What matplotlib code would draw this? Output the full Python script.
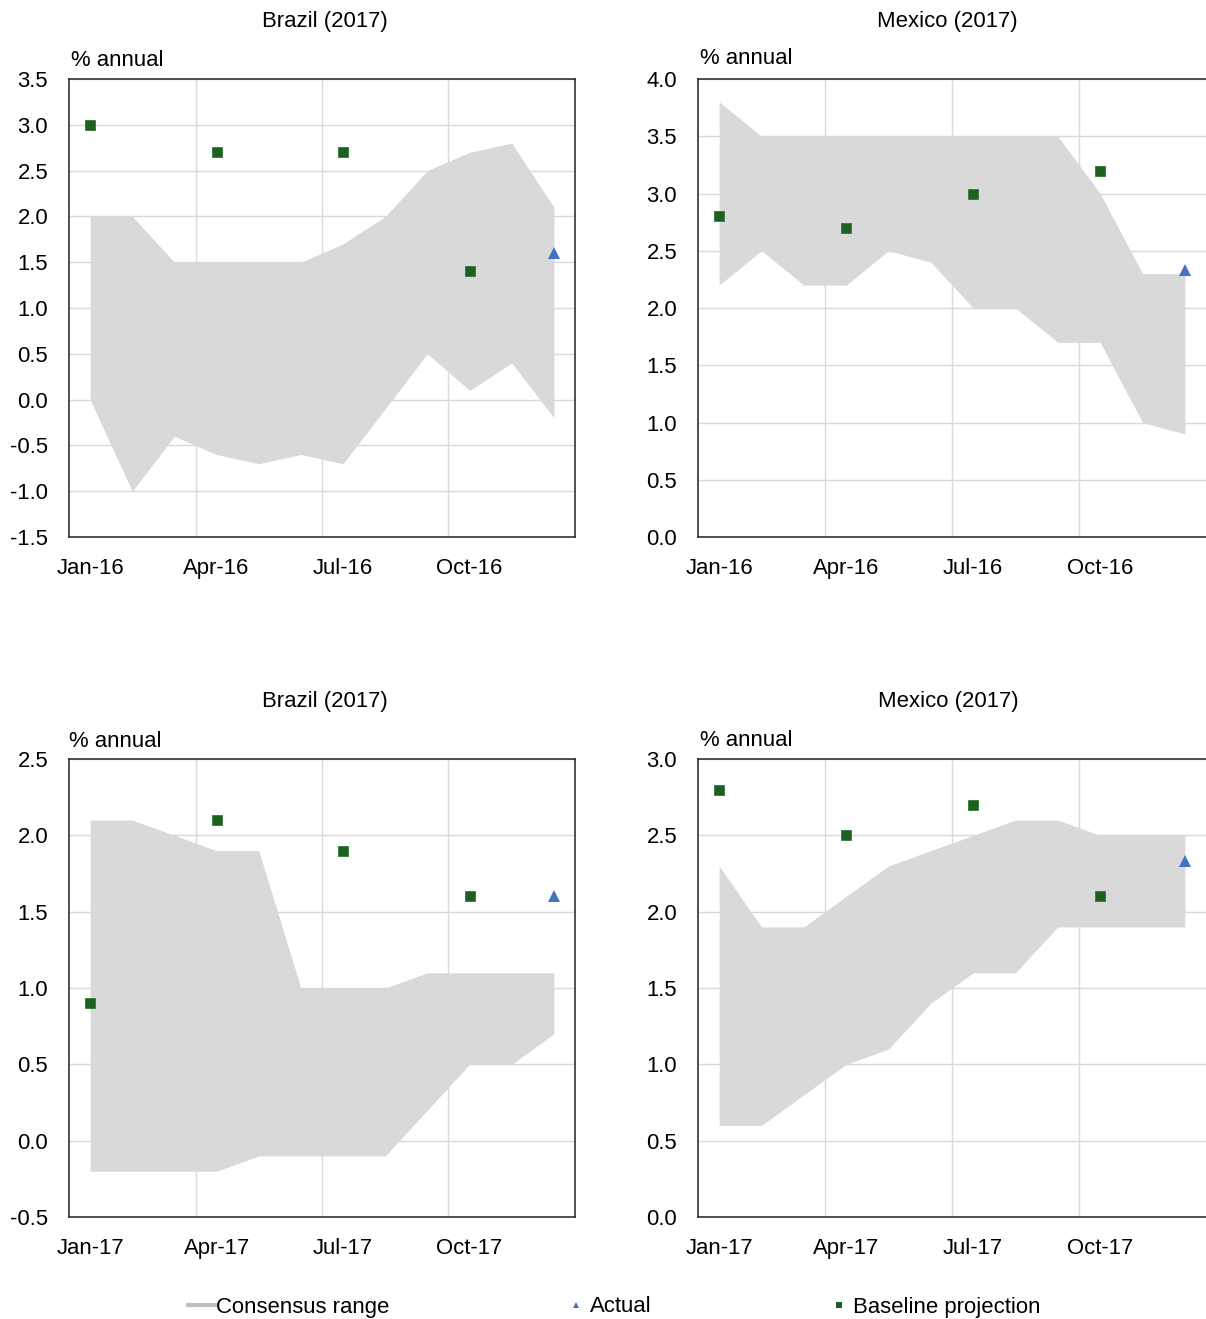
import matplotlib
matplotlib.use("Agg")
import matplotlib.pyplot as plt
from matplotlib.lines import Line2D
from matplotlib.ticker import FixedLocator, MultipleLocator

plt.rcParams['font.family'] = ['Liberation Sans', 'DejaVu Sans']

months = list(range(12))
tick_pos = [0, 3, 6, 9]
labels_2016 = ["Jan-16", "Apr-16", "Jul-16", "Oct-16"]
labels_2017 = ["Jan-17", "Apr-17", "Jul-17", "Oct-17"]

# Brazil, forecasts made during 2016
br16_high = [2.0, 2.0, 1.5, 1.5, 1.5, 1.5, 1.7, 2.0, 2.5, 2.7, 2.8, 2.1]
br16_low = [0.0, -1.0, -0.4, -0.6, -0.7, -0.6, -0.7, -0.1, 0.5, 0.1, 0.4, -0.2]
br16_base = [3.0, 2.7, 2.7, 1.4]
br16_actual = 1.6

# Mexico, forecasts made during 2016
mx16_high = [3.8, 3.5, 3.5, 3.5, 3.5, 3.5, 3.5, 3.5, 3.5, 3.0, 2.3, 2.3]
mx16_low = [2.2, 2.5, 2.2, 2.2, 2.5, 2.4, 2.0, 2.0, 1.7, 1.7, 1.0, 0.9]
mx16_base = [2.8, 2.7, 3.0, 3.2]
mx16_actual = 2.33

# Brazil, forecasts made during 2017
br17_high = [2.1, 2.1, 2.0, 1.9, 1.9, 1.0, 1.0, 1.0, 1.1, 1.1, 1.1, 1.1]
br17_low = [-0.2, -0.2, -0.2, -0.2, -0.1, -0.1, -0.1, -0.1, 0.2, 0.5, 0.5, 0.7]
br17_base = [0.9, 2.1, 1.9, 1.6]
br17_actual = 1.6

# Mexico, forecasts made during 2017
mx17_high = [2.3, 1.9, 1.9, 2.1, 2.3, 2.4, 2.5, 2.6, 2.6, 2.5, 2.5, 2.5]
mx17_low = [0.6, 0.6, 0.8, 1.0, 1.1, 1.4, 1.6, 1.6, 1.9, 1.9, 1.9, 1.9]
mx17_base = [2.8, 2.5, 2.7, 2.1]
mx17_actual = 2.33

FILL = "#d9d9d9"
GREEN = "#1f5f20"
BLUE = "#4472c4"
GRID = "#d9d9d9"
FS = 15.9

W, H = 1206, 1319
fig = plt.figure(figsize=(W / 100, H / 100), dpi=100)


def px_axes(left, right, top, bottom):
    return fig.add_axes([left / W, 1 - bottom / H, (right - left) / W, (bottom - top) / H])


def panel(ax, high, low, base, actual, xlabels, ylim, ystep, hide_right=False):
    ax.fill_between(months, low, high, color=FILL, linewidth=0, zorder=1)
    ax.plot(tick_pos, base, linestyle="none", marker="s", markersize=7.3,
            color=GREEN, markeredgecolor="#2f7a31", markeredgewidth=0.6, zorder=3)
    ax.plot([11], [actual], linestyle="none", marker="^", markersize=8.5,
            color=BLUE, markeredgewidth=0, zorder=3)
    ax.set_xlim(-0.5, 11.5)
    ax.set_ylim(*ylim)
    ax.xaxis.set_major_locator(FixedLocator(tick_pos))
    ax.set_xticklabels(xlabels)
    ax.xaxis.set_minor_locator(FixedLocator([2.5, 5.5, 8.5]))
    ax.yaxis.set_major_locator(MultipleLocator(ystep))
    ax.yaxis.set_major_formatter(plt.FuncFormatter(lambda v, p: f"{v:.1f}"))
    ax.grid(True, which="minor", axis="x", color=GRID, linewidth=1, zorder=0)
    ax.grid(True, which="major", axis="y", color=GRID, linewidth=1, zorder=0)
    ax.set_axisbelow(True)
    ax.tick_params(axis="both", which="both", length=0, labelsize=FS, colors="black")
    ax.tick_params(axis="y", pad=15)
    ax.tick_params(axis="x", pad=15)
    for s in ax.spines.values():
        s.set_color("#222222")
        s.set_linewidth(1.1)
    if hide_right:
        ax.spines["right"].set_visible(False)


ax1 = px_axes(69, 575, 79, 537)
panel(ax1, br16_high, br16_low, br16_base, br16_actual, labels_2016, (-1.5, 3.5), 0.5)
ax2 = px_axes(698, 1206, 79, 537)
panel(ax2, mx16_high, mx16_low, mx16_base, mx16_actual, labels_2016, (0.0, 4.0), 0.5, hide_right=True)
ax3 = px_axes(69, 575, 759, 1217)
panel(ax3, br17_high, br17_low, br17_base, br17_actual, labels_2017, (-0.5, 2.5), 0.5)
ax4 = px_axes(698, 1206, 759, 1217)
panel(ax4, mx17_high, mx17_low, mx17_base, mx17_actual, labels_2017, (0.0, 3.0), 0.5, hide_right=True)


def ftext(x, y, s, ha="left"):
    fig.text(x / W, 1 - y / H, s, ha=ha, va="center", fontsize=FS, color="black")


ftext(325, 21, "Brazil (2017)", ha="center")
ftext(947, 21, "Mexico (2017)", ha="center")
ftext(325, 701, "Brazil (2017)", ha="center")
ftext(948, 702, "Mexico (2017)", ha="center")
ftext(71, 60, "% annual")
ftext(700, 59, "% annual")
ftext(69, 742, "% annual")
ftext(700, 740, "% annual")

# Legend entries along the bottom
legend_items = [
    (Line2D([], [], color="#bfbfbf", linewidth=3), "Consensus range", 188, 1.2, 0.05),
    (Line2D([], [], linestyle="none", marker="^", markersize=5, color=BLUE, markeredgewidth=0),
     "Actual", 568, 0.7, 0.3),
    (Line2D([], [], linestyle="none", marker="s", markersize=5, color=GREEN, markeredgewidth=0),
     "Baseline projection", 831, 0.7, 0.3),
]
for handle, text, x0, hl, tp in legend_items:
    fig.legend([handle], [text], loc="center left", bbox_to_anchor=(x0 / W, 1 - 1307 / H),
               frameon=False, fontsize=FS, handlelength=hl, handletextpad=tp,
               borderpad=0, borderaxespad=0)

fig.savefig("out.png", dpi=100)
